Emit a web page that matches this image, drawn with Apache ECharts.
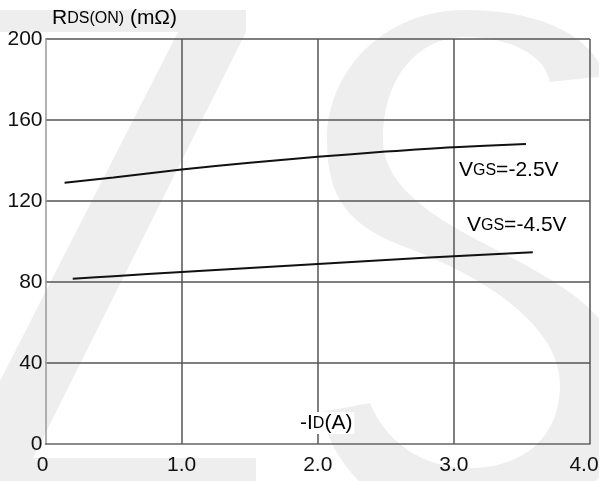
<!DOCTYPE html>
<html>
<head>
<meta charset="utf-8">
<script src="https://cdn.jsdelivr.net/npm/echarts@6/dist/echarts.min.js"></script>
<style>html,body{margin:0;padding:0;background:#fff}#c{width:599px;height:481px}</style>
</head>
<body>
<div id="c"></div>
<script>
// ---- data ----
const xTickLabels = ['0', '1.0', '2.0', '3.0', '4.0'];
const yTickLabels = ['0', '40', '80', '120', '160', '200'];
const idVgs25 = [0.14, 0.5, 1.0, 1.5, 2.0, 2.5, 3.0, 3.53];
const rdsVgs25 = [129, 131.6, 135.5, 138.9, 141.8, 144.4, 146.6, 148.2];
const idVgs45 = [0.2, 0.5, 1.0, 1.5, 2.0, 2.5, 3.0, 3.58];
const rdsVgs45 = [81.6, 82.9, 84.9, 86.9, 88.9, 90.9, 92.7, 94.7];
const seriesNames = ['VGS=-2.5V', 'VGS=-4.5V'];

const FONT = "'Liberation Sans', Arial, sans-serif";
const WM = '#eeeeee';
const S_PATH = 'M 605 76 C 590 30 530 10 465 10 C 385 10 327 70 327 140 C 327 200 350 225 400 245 C 470 270 560 320 560 385 C 560 440 520 468 470 468 C 420 468 385 440 370 403 L 322 412 C 330 470 400 535 480 535 C 560 535 625 480 625 390 C 625 320 570 290 520 262 C 470 235 383 200 383 140 C 383 75 420 37 465 37 C 510 37 545 55 550 82 Z';
try {
  echarts.graphic.registerShape('wmS', echarts.graphic.extendPath(S_PATH, {}));
} catch (e) { console.log(e); }

const chart = echarts.init(document.getElementById('c'), null, {renderer: 'canvas'});
const pairs = (xs, ys) => xs.map((x, i) => [x, ys[i]]);
const big = {fontSize: 21, fontFamily: FONT, color: '#111'};
const small = {fontSize: 16, fontFamily: FONT, color: '#111'};
const lastX = xTickLabels.length - 1;

chart.setOption({
  animation: false,
  backgroundColor: '#fff',
  grid: {left: 45.5, right: 9, top: 39, bottom: 37, containLabel: false, outerBoundsMode: 'none'},
  xAxis: {
    type: 'value', min: 0, max: 4, interval: 1,
    axisLine: {show: true, onZero: false, lineStyle: {color: '#666', width: 1.5}},
    axisTick: {show: false},
    axisLabel: {fontSize: 21, fontFamily: FONT, color: '#111', margin: 11,
      formatter: (v) => {
        const i = Math.round(v);
        if (i === lastX) return '{m|' + xTickLabels[i] + '}';
        if (i === 0) return '{z|' + xTickLabels[i] + '}';
        return xTickLabels[i];
      },
      rich: {
        m: {fontSize: 21, fontFamily: FONT, color: '#111', padding: [0, 12, 0, 0]},
        z: {fontSize: 21, fontFamily: FONT, color: '#111', padding: [0, 6, 0, 0]}
      }},
    splitLine: {show: true, showMinLine: false, lineStyle: {color: '#555', width: 1.5}}
  },
  yAxis: {
    type: 'value', min: 0, max: 200, interval: 40,
    axisLine: {show: true, lineStyle: {color: '#999', width: 1.5}},
    axisTick: {show: false},
    axisLabel: {fontSize: 21, fontFamily: FONT, color: '#111', margin: 3,
      formatter: (v) => yTickLabels[Math.round(v / 40)]},
    splitLine: {show: true, showMinLine: false, lineStyle: {color: '#555', width: 1.5}}
  },
  series: [
    {name: seriesNames[0], type: 'line', smooth: 0.3, showSymbol: false, z: 5,
     data: pairs(idVgs25, rdsVgs25), lineStyle: {color: '#111', width: 2}},
    {name: seriesNames[1], type: 'line', smooth: 0.3, showSymbol: false, z: 5,
     data: pairs(idVgs45, rdsVgs45), lineStyle: {color: '#111', width: 2}}
  ],
  graphic: [
    // watermark "Z"
    {type: 'polygon', z: -10, silent: true,
     shape: {points: [[0,10],[246,10],[246,32],[33,458],[256,458],[256,485],[0,485],[0,381],[178,32],[0,32]]},
     style: {fill: WM}},
    // watermark "S"
    {type: 'wmS', z: -10, silent: true, style: {fill: WM}},
    // y axis title
    {type: 'text', left: 52, top: 8, z: 10,
     style: {text: '{a|R}{b|DS(ON)}{a| (mΩ)}', rich: {a: big, b: small}}},
    // x axis title
    {type: 'text', left: 298, top: 412, z: 10,
     style: {text: '{a|-I}{b|D}{a|(A)}', rich: {a: big, b: small},
       backgroundColor: '#fff', padding: [1, 2, 0, 2]}},
    // curve labels
    {type: 'text', left: 459, top: 160, z: 10,
     style: {text: '{a|V}{b|GS}{a|=-2.5V}', rich: {a: big, b: small}}},
    {type: 'text', left: 467, top: 215, z: 10,
     style: {text: '{a|V}{b|GS}{a|=-4.5V}', rich: {a: big, b: small}}}
  ]
});
</script>
</body>
</html>
